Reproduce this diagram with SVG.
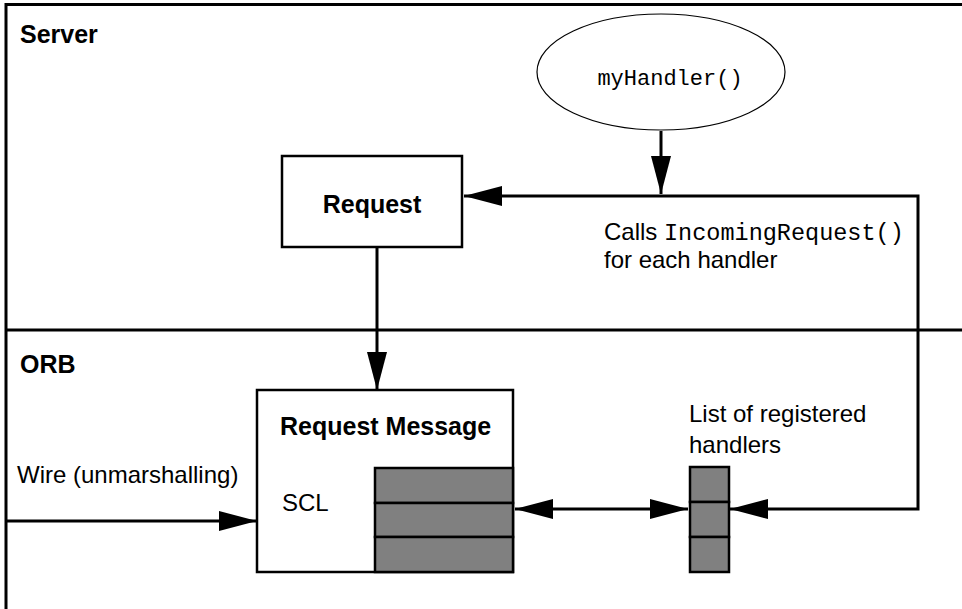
<svg xmlns="http://www.w3.org/2000/svg" width="962" height="609" viewBox="0 0 962 609">
<style>
.lbl{font-family:"Liberation Sans",Arial,sans-serif;font-size:24px;fill:#000}
.b{font-weight:bold;font-size:25px}
.mono{font-family:"Liberation Mono","Courier New",monospace;fill:#000}
.ln{stroke:#000;stroke-width:3;fill:none}
.box{stroke:#000;stroke-width:2.5;fill:#fff}
.cell{stroke:#000;stroke-width:2.5;fill:#808080}
</style>
<defs>
<marker id="ah" viewBox="0 0 38 20" refX="38" refY="10" markerWidth="38" markerHeight="20" markerUnits="userSpaceOnUse" orient="auto-start-reverse">
<path d="M0,0 L38,10 L0,20 Z" fill="#000"/>
</marker>
</defs>
<rect width="962" height="609" fill="#fff"/>
<g id="frame">
<path class="ln" d="M962,4.5 H6 V609"/>
<path class="ln" d="M6,330 H962"/>
<text class="lbl b" x="20" y="43" font-size="26">Server</text>
<text class="lbl b" x="20" y="373">ORB</text>
</g>
<g id="connectors">
<path class="ln" d="M661,131 V194" marker-end="url(#ah)"/>
<path class="ln" d="M730,509 H918 V196 H464" marker-start="url(#ah)" marker-end="url(#ah)"/>
<path class="ln" d="M377,247 V390" marker-end="url(#ah)"/>
<path class="ln" d="M6,521 H257" marker-end="url(#ah)"/>
<path class="ln" d="M515,509 H688" marker-start="url(#ah)" marker-end="url(#ah)"/>
</g>
<g id="myHandler">
<ellipse cx="661" cy="72" rx="124" ry="58" fill="#fff" stroke="#000" stroke-width="1.2"/>
<text class="mono" x="670" y="85" font-size="22" text-anchor="middle">myHandler()</text>
</g>
<g id="request">
<rect class="box" x="282" y="156" width="180" height="91"/>
<text class="lbl b" x="372" y="213" text-anchor="middle">Request</text>
</g>
<g id="calls-label">
<text class="lbl" x="604" y="240">Calls <tspan class="mono" font-size="23.5">IncomingRequest()</tspan></text>
<text class="lbl" x="604" y="268">for each handler</text>
</g>
<g id="request-message">
<rect class="box" x="257" y="390" width="256" height="182"/>
<text class="lbl b" x="280" y="435">Request Message</text>
<text class="lbl" x="282" y="511">SCL</text>
<rect class="cell" x="375" y="468" width="138" height="35"/>
<rect class="cell" x="375" y="503" width="138" height="34"/>
<rect class="cell" x="375" y="537" width="138" height="35"/>
</g>
<g id="wire-label">
<text class="lbl" x="17" y="483" font-size="24.4">Wire (unmarshalling)</text>
</g>
<g id="handler-list">
<text class="lbl" x="689" y="422" font-size="24.4">List of registered</text>
<text class="lbl" x="689" y="453" font-size="24.4">handlers</text>
<rect class="cell" x="690" y="467" width="39" height="35" stroke-width="3"/>
<rect class="cell" x="690" y="502" width="39" height="35" stroke-width="3"/>
<rect class="cell" x="690" y="537" width="39" height="35" stroke-width="3"/>
</g>
</svg>
